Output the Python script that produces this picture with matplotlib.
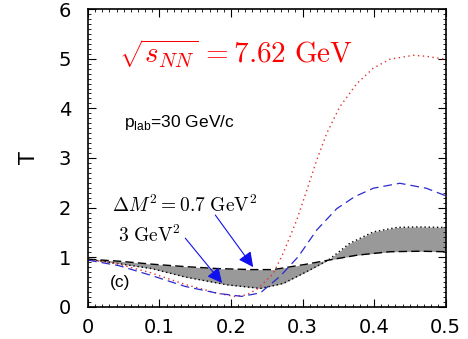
import matplotlib
matplotlib.use("Agg")
import matplotlib.pyplot as plt
from matplotlib.ticker import MultipleLocator
import numpy as np

plt.rcParams['mathtext.fontset'] = 'cm'
plt.rcParams['font.family'] = ['Liberation Sans', 'DejaVu Sans']

# band (Delta M^2 = 0.7 .. 3 GeV^2): upper dashed, lower dotted
band_x = [0.0, 0.043, 0.089, 0.136, 0.182, 0.229, 0.259, 0.306, 0.336, 0.376, 0.422, 0.464, 0.5]
band_upper = [0.96, 0.92, 0.86, 0.81, 0.77, 0.75, 0.75, 0.86, 0.94, 1.04, 1.11, 1.12, 1.11]
band_lower_x = [0.0, 0.043, 0.089, 0.136, 0.173, 0.196, 0.229, 0.241, 0.273, 0.306, 0.336,
                0.366, 0.399, 0.432, 0.46, 0.5]
band_lower = [0.96, 0.87, 0.77, 0.60, 0.50, 0.44, 0.39, 0.37, 0.47, 0.71, 0.94,
              1.28, 1.51, 1.60, 1.61, 1.60]

red_x = [0.0, 0.043, 0.089, 0.136, 0.182, 0.205, 0.222, 0.238, 0.259, 0.273, 0.292, 0.306,
         0.320, 0.334, 0.352, 0.376, 0.399, 0.422, 0.455, 0.473, 0.5]
red_y = [0.95, 0.86, 0.68, 0.45, 0.27, 0.21, 0.24, 0.37, 0.67, 1.08, 1.75, 2.35,
         2.96, 3.50, 4.03, 4.50, 4.81, 4.99, 5.07, 5.05, 4.99]

blue_x = [0.0, 0.043, 0.089, 0.136, 0.182, 0.215, 0.241, 0.269, 0.294, 0.320, 0.348,
          0.373, 0.399, 0.436, 0.473, 0.5]
blue_y = [0.94, 0.83, 0.63, 0.41, 0.27, 0.21, 0.28, 0.62, 1.01, 1.55, 1.98,
          2.22, 2.39, 2.49, 2.39, 2.24]

x_ticks = [0, 0.1, 0.2, 0.3, 0.4, 0.5]
x_labels = ['0', '0.1', '0.2', '0.3', '0.4', '0.5']
y_ticks = [0, 1, 2, 3, 4, 5, 6]

fig = plt.figure(figsize=(4.68, 3.39), dpi=100)
ax = fig.add_axes([0.188, 0.095, 0.764, 0.878])

ux = np.array(band_x); uy = np.array(band_upper)
lx = np.array(band_lower_x); ly = np.array(band_lower)
xx = np.union1d(ux, lx)
ax.fill_between(xx, np.interp(xx, ux, uy), np.interp(xx, lx, ly), color='#999999', lw=0)
ax.plot(band_x, band_upper, color='black', ls=(0, (6, 3)), lw=1.0)
ax.plot(band_lower_x, band_lower, color='black', ls=(0, (1, 2)), lw=1.0)
ax.plot(red_x, red_y, color='#e03030', ls=(0, (1, 2.5)), lw=1.0)
ax.plot(blue_x, blue_y, color='#2a2ad0', ls=(0, (7, 4)), lw=0.9)

ax.set_xlim(0, 0.5)
ax.set_ylim(0, 6)
ax.set_xticks(x_ticks)
ax.set_xticklabels(x_labels)
ax.set_yticks(y_ticks)
ax.xaxis.set_minor_locator(MultipleLocator(0.01))
ax.yaxis.set_minor_locator(MultipleLocator(0.1))
ax.tick_params(which='both', direction='in', top=True, right=True)
ax.tick_params(which='major', length=6, width=0.8)
ax.tick_params(which='minor', length=2.5, width=0.6)
ax.tick_params(axis='y', pad=12)
ax.tick_params(axis='x', pad=8)
for lab in ax.get_xticklabels() + ax.get_yticklabels():
    lab.set_fontfamily('DejaVu Sans')
    lab.set_fontsize(14)
for s in ax.spines.values():
    s.set_linewidth(1.2)
ax.set_ylabel('T', fontsize=15, rotation=90, labelpad=14, fontfamily='DejaVu Sans')

ax.text(0.043, 4.91, r'$\sqrt{s_{NN}}\, = 7.62\ \mathrm{GeV}$', color='red', fontsize=21,
        va='baseline', ha='left')
ax.text(0.051, 3.62, r'p$_{\mathregular{lab}}$=30 GeV/c', fontsize=12.5, va='baseline',
        ha='left', math_fontfamily='dejavusans')
ax.text(0.034, 1.91, r'$\Delta M^2 = 0.7\ \mathrm{GeV}^2$', fontsize=14, va='baseline', ha='left')
ax.text(0.042, 1.31, r'$3\ \mathrm{GeV}^2$', fontsize=14, va='baseline', ha='left')
ax.text(0.031, 0.4, '(c)', fontsize=12.5, va='baseline', ha='left')

arrow_kw = dict(arrowstyle='-|>,head_length=0.9,head_width=0.45', color='#1010ee', lw=0.8,
                shrinkA=0, shrinkB=0)
ax.annotate('', xy=(0.231, 0.80), xytext=(0.178, 1.85), arrowprops=arrow_kw)
ax.annotate('', xy=(0.1875, 0.48), xytext=(0.136, 1.385), arrowprops=arrow_kw)

fig.savefig('out.png', dpi=100)
